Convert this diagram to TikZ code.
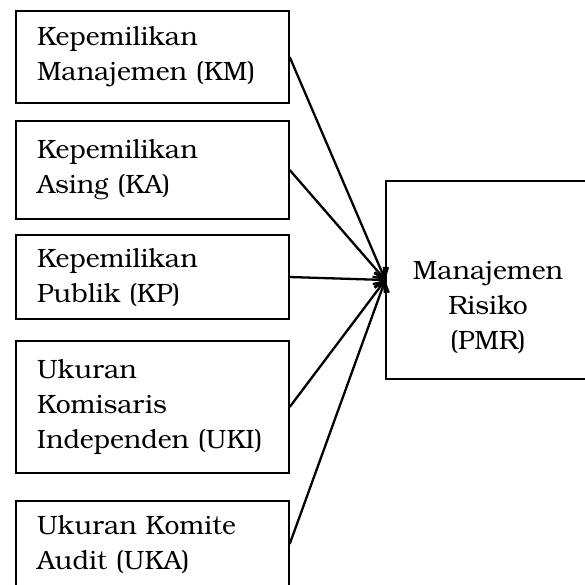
\documentclass[tikz,border=0pt]{standalone}
\usepackage{fontspec}
\setmainfont{texgyrebonum-regular.otf}
\usetikzlibrary{positioning,arrows.meta}
\tikzset{
every picture/.style={
line width=1.4pt
}}

\begin{document}
\begin{tikzpicture}[x=1pt, y=-1pt,
block/.style = {rectangle, draw=black, align=left, text width=231pt, inner xsep=21pt, inner ysep=0pt, font=\fontsize{26.5}{35}\selectfont},
link/.style = {line width=2.3pt, -{Straight Barb[length=9pt, width=15pt]}}]
\useasboundingbox (0,0) rectangle (585,584);

\node[block, minimum height=92pt] (km) at (152.5,57) {Kepemilikan\\Manajemen (KM)};
\node[block, minimum height=98pt] (ka) at (152.5,170) {Kepemilikan\\Asing (KA)};
\node[block, minimum height=84pt] (kp) at (152.5,277) {Kepemilikan\\Publik (KP)};
\node[block, minimum height=132pt] (uki) at (152.5,407) {Ukuran\\Komisaris\\Independen (UKI)};
\node[block, minimum height=86pt] (uka) at (152.5,544) {Ukuran Komite\\Audit (UKA)};

\node[draw, rectangle, minimum width=204pt, minimum height=198pt] (pmr) at (488,280) {};
\node[align=center, font=\fontsize{26.5}{35}\selectfont] (pmrtext) at (488,307) {Manajemen\\Risiko\\(PMR)};

\draw [link] (km.east) -- (pmr.west);
\draw [link] (ka.east) -- (pmr.west);
\draw [link] (kp.east) -- (pmr.west);
\draw [link] (uki.east) -- (pmr.west);
\draw [link] (uka.east) -- (pmr.west);
\end{tikzpicture}
\end{document}
